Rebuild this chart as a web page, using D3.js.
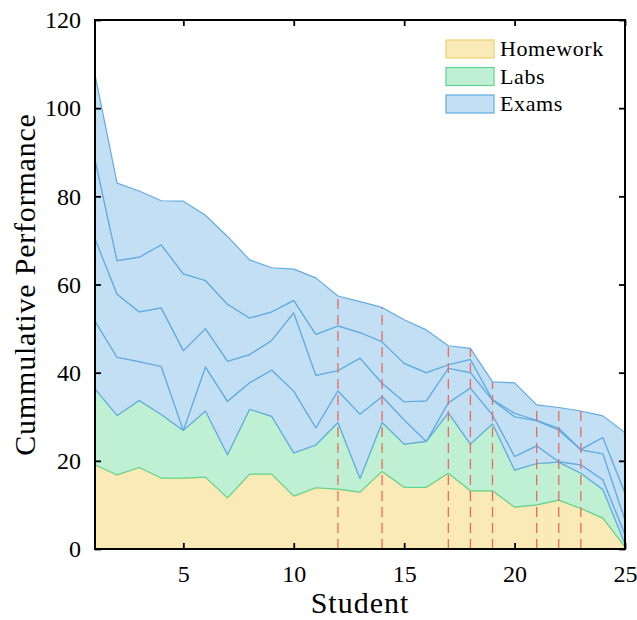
<!DOCTYPE html>
<html>
<head>
<meta charset="utf-8">
<script src="https://cdn.jsdelivr.net/npm/d3@7"></script>
<style>
  body { margin: 0; background: #fff; }
  text { font-family: "Liberation Serif", "Times New Roman", serif; fill: #000; }
</style>
</head>
<body>
<svg id="chart"></svg>
<script>
// data
const students = d3.range(1, 26);
const homework = [19.1, 16.8, 18.5, 16.1, 16.1, 16.3, 11.6, 17.0, 17.0, 12.0, 13.9, 13.6, 12.9, 17.6, 14.0, 14.0, 17.2, 13.2, 13.2, 9.5, 10.0, 11.1, 9.2, 7.0, 0.5];
const labs = [17.2, 13.5, 15.2, 14.4, 10.8, 15.0, 9.8, 14.7, 13.1, 9.8, 9.7, 15.1, 3.1, 11.1, 9.8, 10.4, 13.7, 10.6, 15.2, 8.4, 9.4, 8.6, 8.0, 6.5, 0.7];
const exam1 = [15.4, 13.2, 8.8, 10.9, 0, 10.0, 12.1, 6.0, 10.5, 14.0, 3.9, 7.2, 14.6, 5.9, 5.5, 0, 2.3, 12.7, 2.0, 3.1, 4.0, 0.1, 1.9, 2.2, 2.1];
const exam2 = [18.7, 14.3, 11.3, 13.3, 18.1, 8.7, 9.1, 6.4, 6.7, 17.8, 11.9, 4.6, 12.7, 3.0, 4.1, 9.2, 7.8, 3.5, 3.4, 9.0, 5.7, 7.2, 3.4, 5.9, 3.3];
const exam3 = [18.0, 7.6, 12.4, 14.3, 17.4, 10.9, 12.9, 8.3, 6.5, 2.8, 9.3, 10.1, 5.8, 9.4, 8.7, 6.4, 0.8, 3.0, 0.1, 0.8, 0.1, 0.4, 0.1, 3.7, 6.1];
const exam4 = [19.2, 17.6, 15.0, 10.0, 16.5, 14.8, 15.4, 13.2, 10.0, 7.1, 12.8, 6.8, 7.0, 7.8, 9.9, 9.7, 4.3, 2.5, 4.0, 6.9, 3.5, 4.7, 8.7, 4.9, 13.7];
const flagged = [12, 14, 17, 18, 19, 21, 22, 23];

const xTicks = [5, 10, 15, 20, 25];
const yTicks = [0, 20, 40, 60, 80, 100, 120];

const seriesKeys = ["homework", "labs", "exam1", "exam2", "exam3", "exam4"];
const seriesGroup = { homework: "Homework", labs: "Labs", exam1: "Exams", exam2: "Exams", exam3: "Exams", exam4: "Exams" };
const legendNames = ["Homework", "Labs", "Exams"];
const fills = { Homework: "#f9eab8", Labs: "#bff0d3", Exams: "#c2dff3" };
const edges = { Homework: "#f0cf6a", Labs: "#62d392", Exams: "#62ace2" };

//margins
const W = 637, H = 620;
const margin = { top: 20, right: 12, bottom: 71, left: 95 };
const width = W - margin.left - margin.right;
const height = H - margin.top - margin.bottom;

const svg = d3.select("#chart").attr("width", W).attr("height", H);
const g = svg.append("g").attr("transform", `translate(${margin.left},${margin.top})`);

const x = d3.scaleLinear().domain([1, 25]).range([0, width]);
const y = d3.scaleLinear().domain([0, 120]).range([height, 0]);

// table for the stack
const table = students.map((s, i) => ({
  student: s,
  homework: homework[i], labs: labs[i],
  exam1: exam1[i], exam2: exam2[i], exam3: exam3[i], exam4: exam4[i]
}));
const stacked = d3.stack().keys(seriesKeys)(table);

const area = d3.area()
  .x(d => x(d.data.student))
  .y0(d => y(d[0]))
  .y1(d => y(d[1]));

// areas, drawn in order so each outline covers the one below
g.append("g").selectAll("path")
  .data(stacked)
  .join("path")
  .attr("d", area)
  .attr("fill", d => fills[seriesGroup[d.key]])
  .attr("stroke", d => edges[seriesGroup[d.key]])
  .attr("stroke-width", 1.2)
  .attr("stroke-linejoin", "round");

// red dashed markers up to the total
const totals = stacked[stacked.length - 1];
g.append("g").selectAll("line")
  .data(flagged)
  .join("line")
  .attr("x1", d => x(d)).attr("x2", d => x(d))
  .attr("y1", y(0))
  .attr("y2", d => y(totals[d - 1][1]))
  .attr("stroke", "#ea6a5e")
  .attr("stroke-width", 1.3)
  .attr("stroke-dasharray", "10,6");

// axes: ticks inside on all four sides
const tickLen = 6;
const axisStyle = sel => {
  sel.select(".domain").remove();
  sel.selectAll(".tick line").attr("stroke", "#000").attr("stroke-width", 1.8);
  sel.selectAll(".tick text").style("font-family", "Liberation Serif").style("font-size", "24px");
};

g.append("g")
  .attr("transform", `translate(0,${height})`)
  .call(d3.axisBottom(x).tickValues(xTicks).tickSize(-tickLen).tickPadding(16).tickFormat(d3.format("d")))
  .call(axisStyle);

g.append("g")
  .call(d3.axisTop(x).tickValues(xTicks).tickSize(-tickLen).tickFormat(""))
  .call(axisStyle);

g.append("g")
  .call(d3.axisLeft(y).tickValues(yTicks).tickSize(-tickLen).tickPadding(14))
  .call(axisStyle);

g.append("g")
  .attr("transform", `translate(${width},0)`)
  .call(d3.axisRight(y).tickValues(yTicks).tickSize(-tickLen).tickFormat(""))
  .call(axisStyle);

// frame
g.append("rect")
  .attr("width", width).attr("height", height)
  .attr("fill", "none").attr("stroke", "#000").attr("stroke-width", 2);

// axis labels
svg.append("text")
  .attr("x", margin.left + width / 2).attr("y", 613)
  .attr("text-anchor", "middle")
  .style("font-size", "30px").style("letter-spacing", "1px")
  .text("Student");

svg.append("text")
  .attr("transform", `translate(35,${margin.top + height / 2}) rotate(-90)`)
  .attr("text-anchor", "middle")
  .style("font-size", "30px").style("letter-spacing", "0.8px")
  .text("Cummulative Performance");

// legend
const legend = svg.append("g").attr("transform", "translate(446,40)");
const items = legend.selectAll("g")
  .data(legendNames)
  .join("g")
  .attr("transform", (d, i) => `translate(0,${i * 27.5})`);

items.append("rect")
  .attr("width", 48).attr("height", 18)
  .attr("fill", d => fills[d])
  .attr("stroke", d => edges[d])
  .attr("stroke-width", 1.2);

items.append("text")
  .attr("x", 54).attr("y", 16)
  .style("font-size", "22px").style("letter-spacing", "0.6px")
  .text(d => d);
</script>
</body>
</html>
